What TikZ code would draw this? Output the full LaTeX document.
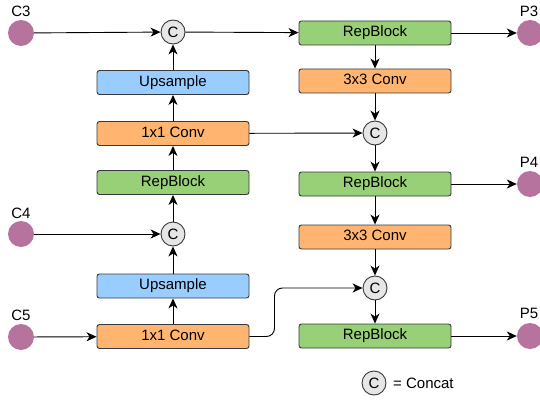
\documentclass[tikz,border=0pt]{standalone}
\usepackage{fontspec}
\setmainfont{Liberation Sans}
\usetikzlibrary{arrows.meta}

\definecolor{repgreen}{HTML}{97D077}
\definecolor{convorange}{HTML}{FFB570}
\definecolor{upblue}{HTML}{99CCFF}
\definecolor{featpurple}{HTML}{B5739D}
\definecolor{catgray}{HTML}{E6E6E6}
\definecolor{edgegray}{HTML}{36393D}

\begin{document}
\begin{tikzpicture}[x=1pt,y=-1pt,
   font=\fontsize{15}{17}\selectfont,
   box/.style={draw=edgegray,line width=0.9pt,rounded corners=2.5pt,
      minimum width=152pt,minimum height=24pt,inner sep=0pt,
      text height=10.5pt,text depth=3pt},
   rep/.style={box,fill=repgreen},
   conv/.style={box,fill=convorange},
   up/.style={box,fill=upblue},
   cat/.style={circle,draw=edgegray,line width=0.9pt,fill=catgray,
      minimum size=24pt,inner sep=0pt},
   feat/.style={circle,fill=featpurple,minimum size=26pt,inner sep=0pt},
   arr/.style={-{Stealth[length=10pt,width=9pt,inset=3pt]},line width=0.9pt}]
   \useasboundingbox (0,0) rectangle (540,401);
   % inputs and outputs
   \node[feat] (c3) at (21,33) {};
   \node[feat] (c4) at (21,234) {};
   \node[feat] (c5) at (21,337) {};
   \node[feat] (p3) at (530,33) {};
   \node[feat] (p4) at (530,184) {};
   \node[feat] (p5) at (530,336) {};
   \node (lc3) at (21,11) {C3};
   \node (lc4) at (21,213) {C4};
   \node (lc5) at (21,315) {C5};
   \node (lp3) at (529,11) {P3};
   \node (lp4) at (529,162) {P4};
   \node (lp5) at (529,313) {P5};
   % left column
   \node[cat] (cat1) at (173,32) {C};
   \node[up] (up1) at (173,82.5) {Upsample};
   \node[conv] (cv1) at (173,133.5) {1x1 Conv};
   \node[rep] (rb1) at (173,182.5) {RepBlock};
   \node[cat] (cat2) at (173,234) {C};
   \node[up] (up2) at (173,286) {Upsample};
   \node[conv] (cv2) at (173,336.5) {1x1 Conv};
   % right column
   \node[rep] (rb2) at (375,33) {RepBlock};
   \node[conv] (cv3) at (375,81) {3x3 Conv};
   \node[cat] (cat3) at (375,133) {C};
   \node[rep] (rb3) at (375,184) {RepBlock};
   \node[conv] (cv4) at (375,237) {3x3 Conv};
   \node[cat] (cat4) at (375,288) {C};
   \node[rep] (rb4) at (375,336) {RepBlock};
   % legend
   \node[cat] (leg) at (374,383) {C};
   \node[anchor=west,inner sep=0pt] (legtxt) at (393,383) {= Concat};
   % connectors
   \path[arr] (c3) edge (cat1);
   \path[arr] (cat1) edge (rb2);
   \path[arr] (up1) edge (cat1);
   \path[arr] (cv1) edge (up1);
   \path[arr] (rb1) edge (cv1);
   \path[arr] (cat2) edge (rb1);
   \path[arr] (c4) edge (cat2);
   \path[arr] (up2) edge (cat2);
   \path[arr] (cv2) edge (up2);
   \path[arr] (c5) edge (cv2);
   \path[arr] (cv1) edge (cat3);
   \path[arr] (rb2) edge (cv3);
   \path[arr] (cv3) edge (cat3);
   \path[arr] (cat3) edge (rb3);
   \path[arr] (rb3) edge (cv4);
   \path[arr] (cv4) edge (cat4);
   \path[arr] (cat4) edge (rb4);
   \draw[arr,rounded corners=8pt] (cv2.east) -- ++(25,0) |- (cat4.west);
   \path[arr] (rb2) edge (p3);
   \path[arr] (rb3) edge (p4);
   \path[arr] (rb4) edge (p5);
\end{tikzpicture}
\end{document}
